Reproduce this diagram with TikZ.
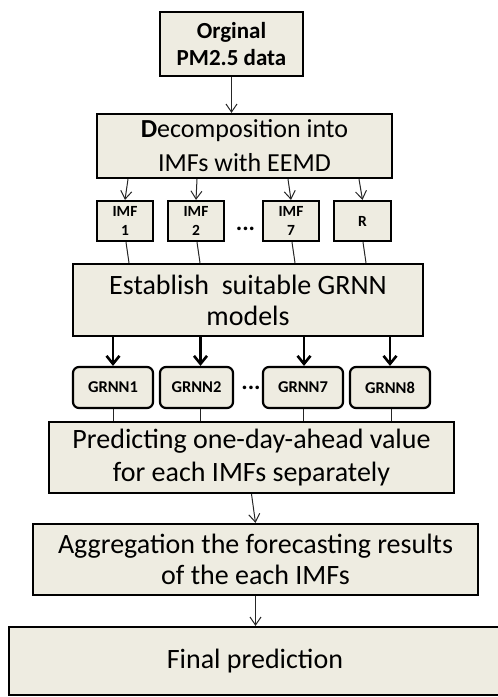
\documentclass[tikz,border=0pt]{standalone}
\usepackage{fontspec}
\setmainfont{Carlito}
\usetikzlibrary{arrows.meta}
\definecolor{boxfill}{HTML}{EEECE1}
\tikzset{
  box/.style={draw=black, fill=boxfill, line width=2.2pt, inner sep=0pt, align=center},
  big/.style={font=\fontsize{28}{31}\selectfont},
  small/.style={font=\fontsize{15.5}{19}\selectfont\bfseries},
  grnn/.style={box, rounded corners=6pt, minimum width=80pt, minimum height=41pt, font=\fontsize{16.5}{19}\selectfont\bfseries},
  dots/.style={inner sep=0pt, font=\fontsize{24}{24}\selectfont\bfseries},
  thin/.style={draw=black!85, line width=1pt},
  arr/.style={thin, -{Straight Barb[length=8pt,width=11pt,line width=1pt]}},
  thick arr/.style={draw=black, line width=2.6pt, -{Straight Barb[length=8pt,width=13pt,line width=2.6pt]}},
}
\begin{document}
\begin{tikzpicture}[x=1pt,y=-1pt]
\useasboundingbox (0,0) rectangle (498,697);
% boxes
\node[box, minimum width=143pt, minimum height=64pt, font=\fontsize{23}{27}\selectfont\bfseries] (b1) at (231.5,44) {Orginal\\PM2.5 data};
\node[box, minimum width=295pt, minimum height=64pt, font=\fontsize{26}{34}\selectfont] (b2) at (244.5,146) {\textbf{D}ecomposition into\\IMFs with EEMD};
\node[box, small, minimum width=56pt, minimum height=40pt] (i1) at (125,221) {IMF\\1};
\node[box, small, minimum width=56pt, minimum height=40pt] (i2) at (196,221) {IMF\\2};
\node[box, small, minimum width=56pt, minimum height=40pt] (i7) at (291,221) {IMF\\7};
\node[box, small, minimum width=57pt, minimum height=40pt] (ir) at (362.5,221) {R};
\node[dots] (d1) at (245.5,229) {...};
\node[box, big, minimum width=350pt, minimum height=72pt] (b3) at (248,300) {Establish\ \ suitable GRNN\\models};
\node[grnn] (g1) at (113,387.5) {GRNN1};
\node[grnn, minimum width=73pt] (g2) at (196.5,387.5) {GRNN2};
\node[grnn] (g7) at (303,387.5) {GRNN7};
\node[grnn] (g8) at (390,387.5) {GRNN8};
\node[dots] (d2) at (251,388) {...};
\node[box, big, minimum width=405pt, minimum height=71pt, font=\fontsize{28}{33}\selectfont] (b4) at (251.5,457.5) {Predicting one-day-ahead value\\for each IMFs separately};
\node[box, big, minimum width=445pt, minimum height=71pt] (b5) at (255.5,559.5) {Aggregation the forecasting results\\of the each IMFs};
\node[box, big, minimum width=492pt, minimum height=68pt] (b6) at (255,661) {Final prediction};
% connectors
\draw[arr] (b1.south) -- (b1.south |- b2.north);
\draw[arr] ([xshift=3pt]i1.north |- b2.south) -- (i1.north);
\draw[arr] ([xshift=1pt]i2.north |- b2.south) -- (i2.north);
\draw[arr] ([xshift=-3pt]i7.north |- b2.south) -- (i7.north);
\draw[arr] ([xshift=-3.5pt]ir.north |- b2.south) -- (ir.north);
\draw[thin] ([xshift=1pt]i1.south) -- ([xshift=4pt]i1.south |- b3.north);
\draw[thin] ([xshift=1pt]i2.south) -- ([xshift=4pt]i2.south |- b3.north);
\draw[thin] ([xshift=1pt]i7.south) -- ([xshift=4pt]i7.south |- b3.north);
\draw[thin] ([xshift=0.5pt]ir.south) -- ([xshift=3.5pt]ir.south |- b3.north);
\draw[thick arr] (g1.north |- b3.south) -- (g1.north);
\draw[thick arr] ([xshift=4pt]g2.north |- b3.south) -- ([xshift=4pt]g2.north);
\draw[thick arr] ([xshift=1pt]g7.north |- b3.south) -- ([xshift=1pt]g7.north);
\draw[thick arr] (g8.north |- b3.south) -- (g8.north);
\draw[thin] (g1.south) -- (g1.south |- b4.north);
\draw[thin] ([xshift=3.5pt]g2.south) -- ([xshift=3.5pt]g2.south |- b4.north);
\draw[thin] (g7.south) -- (g7.south |- b4.north);
\draw[thin] ([xshift=1pt]g8.south) -- ([xshift=1pt]g8.south |- b4.north);
\draw[arr] (b4.south) -- (b5.north);
\draw[arr] (b5.south) -- (b5.south |- b6.north);
\end{tikzpicture}
\end{document}
